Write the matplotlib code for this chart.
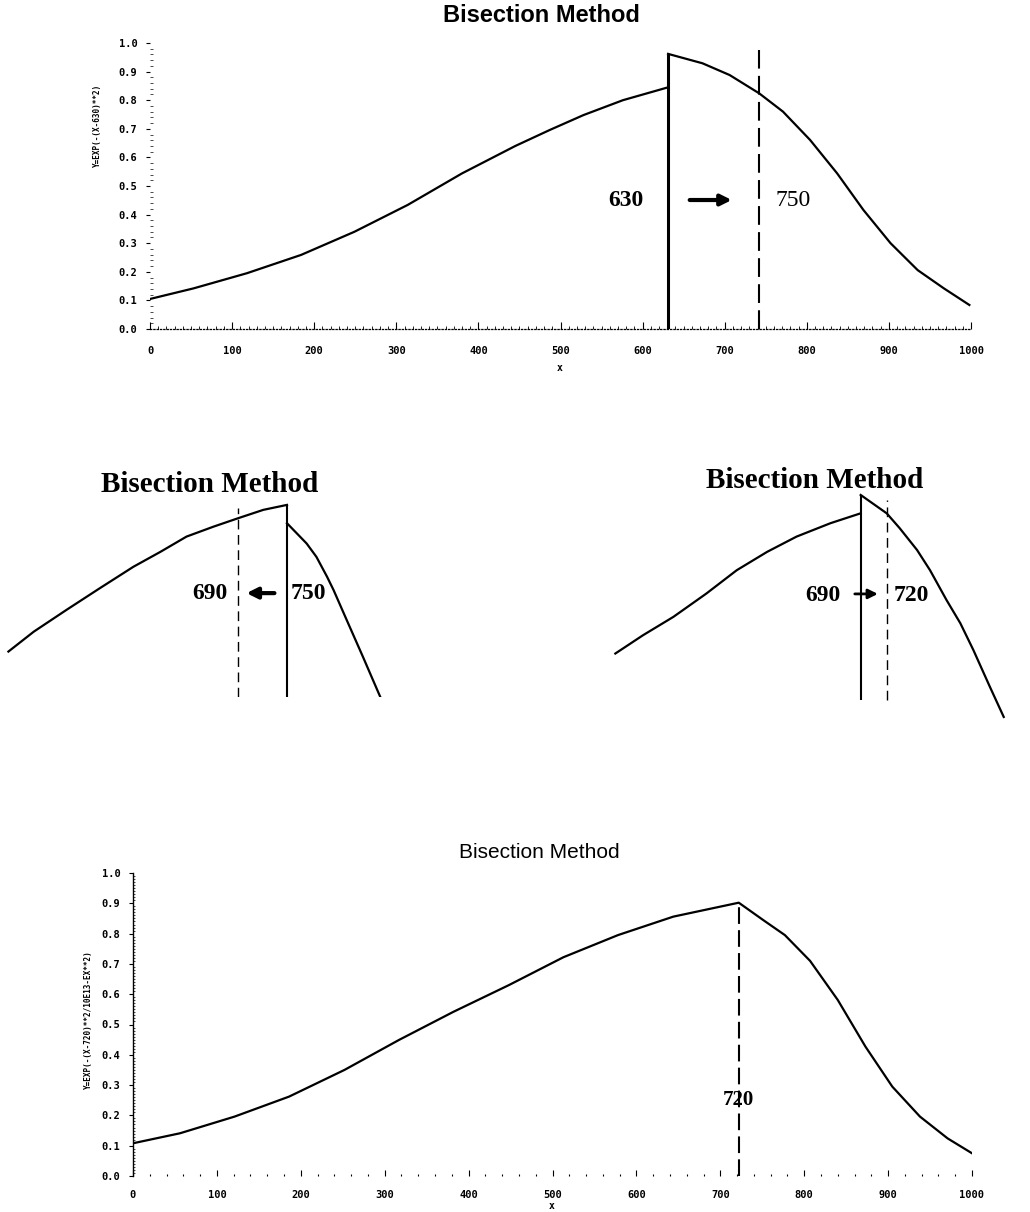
import matplotlib.pyplot as plt
import numpy as np

# ---- data ----
# top chart: curve with a jump at x = 630, bracket 630 -> 750
top_left_x = [0, 53, 118, 184, 249, 314, 380, 445, 487, 528, 576, 631]
top_left_y = [0.105, 0.142, 0.195, 0.259, 0.340, 0.434, 0.544, 0.640, 0.696, 0.748, 0.800, 0.845]
top_right_x = [631, 673, 706, 742, 771, 804, 837, 869, 902, 935, 967, 998]
top_right_y = [0.962, 0.929, 0.888, 0.824, 0.760, 0.661, 0.544, 0.416, 0.300, 0.206, 0.142, 0.084]
top_solid = 631
top_dashed = 742

# middle left: 690 <- 750
midl_left_x = [409, 440, 480, 521, 562, 595, 627, 660, 690, 721, 750]
midl_left_y = [0.577, 0.629, 0.686, 0.743, 0.799, 0.838, 0.878, 0.904, 0.926, 0.948, 0.961]
midl_right_x = [750, 774, 786, 799, 807, 823, 843, 864]
midl_right_y = [0.913, 0.860, 0.825, 0.773, 0.738, 0.660, 0.563, 0.459]

# middle right: 690 -> 720
midr_left_x = [407, 439, 474, 512, 547, 582, 616, 655, 690]
midr_left_y = [0.572, 0.620, 0.668, 0.729, 0.790, 0.838, 0.878, 0.913, 0.939]
midr_right_x = [690, 720, 735, 755, 770, 789, 805, 820, 839, 855]
midr_right_y = [0.987, 0.939, 0.900, 0.843, 0.790, 0.712, 0.651, 0.581, 0.485, 0.406]

# bottom chart: final root 720
bot_x = [0, 56, 121, 186, 252, 317, 382, 448, 513, 578, 644, 722,
         751, 777, 807, 840, 873, 905, 938, 971, 1000]
bot_y = [0.108, 0.141, 0.196, 0.262, 0.350, 0.449, 0.542, 0.630, 0.722, 0.795, 0.856, 0.902,
         0.845, 0.795, 0.710, 0.581, 0.427, 0.295, 0.196, 0.124, 0.075]
bot_root = 722

xticks = [0, 100, 200, 300, 400, 500, 600, 700, 800, 900, 1000]
yticks = [0.0, 0.1, 0.2, 0.3, 0.4, 0.5, 0.6, 0.7, 0.8, 0.9, 1.0]

W, H = 1030, 1212
fig = plt.figure(figsize=(W / 100, H / 100), dpi=100)


def box(x0, y0, x1, y1):
    # pixel box -> figure fraction
    return [x0 / W, 1 - y1 / H, (x1 - x0) / W, (y1 - y0) / H]


tickfont = dict(family='DejaVu Sans Mono', weight='bold', size=7.5)
serif_b = dict(family='Liberation Serif', weight='bold')

# ---- top chart ----
ax = fig.add_axes(box(150, 43, 971, 329))
ax.plot(top_left_x, top_left_y, color='black', lw=1.6)
ax.plot(top_right_x, top_right_y, color='black', lw=1.6)
ax.vlines(top_solid, 0, top_right_y[0], colors='black', lw=2.2)
ax.vlines(top_dashed, 0, 0.975, colors='black', lw=1.5, linestyles=(0, (9, 3.5)))
ax.set_xlim(0, 1000)
ax.set_ylim(0, 1)
ax.set_xticks(xticks)
ax.set_yticks(yticks)
ax.set_xticklabels([str(v) for v in xticks], fontdict=tickfont)
ax.set_yticklabels(['%.1f' % v for v in yticks], fontdict=tickfont)
ax.set_xticks(np.arange(0, 1001, 10), minor=True)
ax.set_yticks(np.arange(0, 1.001, 0.02), minor=True)
ax.tick_params(axis='x', which='major', direction='in', length=5, width=0.8, pad=12)
ax.tick_params(axis='x', which='minor', direction='in', length=2, width=0.6)
ax.tick_params(axis='y', which='major', direction='out', length=3, width=0.8, pad=6)
ax.tick_params(axis='y', which='minor', direction='in', length=2, width=0.5)
for s in ['top', 'right', 'left']:
    ax.spines[s].set_visible(False)
ax.spines['bottom'].set_linestyle(':')
ax.spines['bottom'].set_linewidth(0.9)
ax.text(580, 0.451, '630', fontsize=17, ha='center', va='center', **serif_b)
ax.text(783, 0.448, '750', fontsize=17, ha='center', va='center', family='Liberation Serif')
ax.annotate('', xy=(712, 0.451), xytext=(654, 0.451),
            arrowprops=dict(arrowstyle='-|>', color='black', lw=3, mutation_scale=16))
fig.text(541 / W, 1 - 15 / H, 'Bisection Method', ha='center', va='center',
         fontsize=17, family='Liberation Sans', weight='bold')
fig.text(560 / W, 1 - 368 / H, 'x', ha='center', va='center', fontsize=7, family='DejaVu Sans Mono', weight='bold')
fig.text(97 / W, 1 - 125 / H, 'Y=EXP(-(X-630)**2)', ha='center', va='center',
         rotation=90, fontsize=5.5, family='DejaVu Sans Mono', weight='bold')

# ---- middle left ----
am = fig.add_axes(box(0, 490, 420, 697))
am.plot(midl_left_x, midl_left_y, color='black', lw=1.6)
am.plot(midl_right_x, midl_right_y, color='black', lw=1.6)
am.vlines(750, 0.458, midl_left_y[-1], colors='black', lw=1.5)
am.vlines(690, 0.458, 0.953, colors='black', lw=1.0, linestyles=(0, (7, 4)))
am.set_xlim(398.7, 912.8)
am.set_ylim(0.458, 1.0)
am.axis('off')
am.text(656, 0.73, '690', fontsize=17, ha='center', va='center', **serif_b)
am.text(776, 0.73, '750', fontsize=17, ha='center', va='center', **serif_b)
am.annotate('', xy=(697, 0.73), xytext=(738, 0.73),
            arrowprops=dict(arrowstyle='-|>', color='black', lw=3, mutation_scale=16))
fig.text(210 / W, 1 - 485 / H, 'Bisection Method', ha='center', va='center', fontsize=21, **serif_b)

# ---- middle right ----
an = fig.add_axes(box(600, 490, 1030, 720))
an.plot(midr_left_x, midr_left_y, color='black', lw=1.6)
an.plot(midr_right_x, midr_right_y, color='black', lw=1.6)
an.vlines(690, 0.45, midr_right_y[0], colors='black', lw=1.5)
an.vlines(720, 0.45, 0.975, colors='black', lw=1.0, linestyles=(0, (7, 4)))
an.set_xlim(389.3, 885.3)
an.set_ylim(0.398, 1.0)
an.axis('off')
an.text(646.5, 0.725, '690', fontsize=17, ha='center', va='center', **serif_b)
an.text(748, 0.725, '720', fontsize=17, ha='center', va='center', **serif_b)
an.annotate('', xy=(713, 0.728), xytext=(680, 0.728),
            arrowprops=dict(arrowstyle='-|>', color='black', lw=2, mutation_scale=14))
fig.text(815 / W, 1 - 480 / H, 'Bisection Method', ha='center', va='center', fontsize=21, **serif_b)

# ---- bottom chart ----
ab = fig.add_axes(box(133, 873, 972, 1176))
ab.plot(bot_x, bot_y, color='black', lw=1.6)
ab.vlines(bot_root, 0, bot_y[11], colors='black', lw=1.5, linestyles=(0, (8, 3)))
ab.set_xlim(0, 1000)
ab.set_ylim(0, 1)
ab.set_xticks(xticks)
ab.set_yticks(yticks)
ab.set_xticklabels([str(v) for v in xticks], fontdict=tickfont)
ab.set_yticklabels(['%.1f' % v for v in yticks], fontdict=tickfont)
ab.set_xticks(np.arange(0, 1001, 20), minor=True)
ab.set_yticks(np.arange(0, 1.001, 0.01), minor=True)
ab.tick_params(axis='x', which='major', direction='in', length=4, width=0.8, pad=10)
ab.tick_params(axis='x', which='minor', direction='in', length=1.5, width=0.8)
ab.tick_params(axis='y', which='major', direction='out', length=3, width=0.8, pad=6)
ab.tick_params(axis='y', which='minor', direction='in', length=1.5, width=0.5)
for s in ['top', 'right', 'bottom']:
    ab.spines[s].set_visible(False)
ab.spines['left'].set_linewidth(1.0)
ab.text(722, 0.251, '720', fontsize=15, ha='center', va='center', **serif_b)
fig.text(539 / W, 1 - 853 / H, 'Bisection Method', ha='center', va='center',
         fontsize=15, family='Liberation Sans')
fig.text(552 / W, 1 - 1206 / H, 'x', ha='center', va='center', fontsize=7, family='DejaVu Sans Mono', weight='bold')
fig.text(88 / W, 1 - 1020 / H, 'Y=EXP(-(X-720)**2/10E13-EX**2)', ha='center', va='center',
         rotation=90, fontsize=5.5, family='DejaVu Sans Mono', weight='bold')

fig.savefig('out.png', dpi=100, facecolor='white')
